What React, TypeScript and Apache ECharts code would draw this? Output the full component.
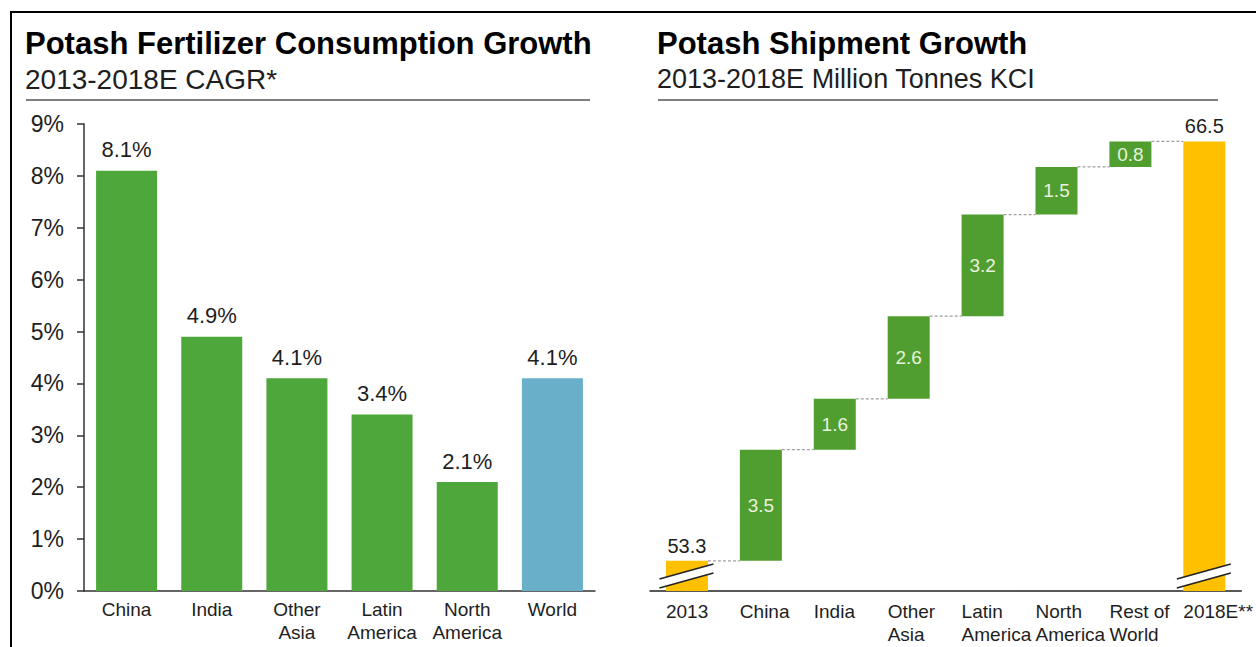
import React, { useEffect, useRef } from 'react';
import * as echarts from 'echarts';

const FONT = "'Liberation Sans', Arial, Helvetica, sans-serif";

// Left chart: consumption CAGR
const cagrCategories = ['China', 'India', 'Other\nAsia', 'Latin\nAmerica', 'North\nAmerica', 'World'];
const cagrValues = [8.1, 4.9, 4.1, 3.4, 2.1, 4.1];
const cagrMin = 0;
const cagrMax = 9;
const cagrInterval = 1;

// Right chart: shipment waterfall
const shipCategories = ['2013', 'China', 'India', 'Other\nAsia', 'Latin\nAmerica', 'North\nAmerica', 'Rest of\nWorld', '2018E**'];
const shipStart = 53.3;
const shipIncrements = [3.5, 1.6, 2.6, 3.2, 1.5, 0.8];
const shipEnd = 66.5;
const shipAxisMin = 52.35;
const shipAxisMax = 67.05;

const GREEN_L = '#4ea73a';
const GREEN_R = '#509e2f';
const BLUE = '#6aafc9';
const YELLOW = '#ffc000';
const TEXT = '#1e1e1e';
const SHIP_BAR_W = 42;

export default function App() {
  const ref = useRef<HTMLDivElement>(null);

  useEffect(() => {
    if (!ref.current) return;
    const chart = echarts.init(ref.current, null, { renderer: 'svg' });

    // waterfall helpers derived from data
    const bases: number[] = [0];
    const tops: number[] = [shipStart];
    let run = shipStart;
    shipIncrements.forEach((d) => {
      bases.push(run);
      run = run + d;
      tops.push(Math.round(run * 10) / 10);
    });
    bases.push(0);
    const shipValues = [shipStart, ...shipIncrements, shipEnd];
    const lastIdx = shipCategories.length - 1;

    const valueData = shipValues.map((v, i) => {
      const total = i === 0 || i === lastIdx;
      return {
        value: v,
        itemStyle: { color: total ? YELLOW : GREEN_R },
        label: total
          ? { show: true, position: 'top', distance: 5, color: TEXT, fontSize: 20, fontFamily: FONT, formatter: () => v.toFixed(1) }
          : { show: true, position: 'inside', color: '#e8f2de', fontSize: 19, fontFamily: FONT, formatter: () => v.toFixed(1) },
      };
    });

    const connectorData = tops.map((t, i) => [i, t]);
    const breakData = [[0, shipAxisMin], [lastIdx, shipAxisMin]];

    const option: any = {
      animation: false,
      backgroundColor: '#ffffff',
      textStyle: { fontFamily: FONT },
      title: [
        { text: 'Potash Fertilizer Consumption Growth', left: 25, top: 28, padding: 0, textStyle: { fontSize: 31, fontWeight: 'bold', color: '#000', fontFamily: FONT } },
        { text: '2013-2018E CAGR*', left: 25, top: 65, padding: 0, textStyle: { fontSize: 28, fontWeight: 'normal', color: TEXT, fontFamily: FONT } },
        { text: 'Potash Shipment Growth', left: 657, top: 28, padding: 0, textStyle: { fontSize: 31, fontWeight: 'bold', color: '#000', fontFamily: FONT } },
        { text: '2013-2018E Million Tonnes KCI', left: 657, top: 65, padding: 0, textStyle: { fontSize: 27, fontWeight: 'normal', color: TEXT, fontFamily: FONT } },
      ],
      graphic: [
        { type: 'line', shape: { x1: 10, y1: 12, x2: 1256, y2: 12 }, style: { stroke: '#000', lineWidth: 2 } },
        { type: 'line', shape: { x1: 11, y1: 11, x2: 11, y2: 647 }, style: { stroke: '#000', lineWidth: 2 } },
        { type: 'line', shape: { x1: 26, y1: 100, x2: 590, y2: 100 }, style: { stroke: '#7f7f7f', lineWidth: 2 } },
        { type: 'line', shape: { x1: 658, y1: 100, x2: 1218, y2: 100 }, style: { stroke: '#7f7f7f', lineWidth: 2 } },
      ],
      grid: [
        { left: 84, top: 124, width: 511, height: 467 },
        { left: 650, top: 124, width: 592, height: 467 },
      ],
      xAxis: [
        {
          type: 'category', gridIndex: 0, data: cagrCategories,
          axisLine: { lineStyle: { color: '#333', width: 1.5 } },
          axisTick: { show: false },
          axisLabel: { interval: 0, color: TEXT, fontSize: 19, lineHeight: 23, margin: 7, fontFamily: FONT },
        },
        {
          type: 'category', gridIndex: 1, data: shipCategories,
          axisLine: { lineStyle: { color: '#222', width: 1.5 } },
          axisTick: { show: false },
          axisLabel: { interval: 0, color: TEXT, fontSize: 19, lineHeight: 23, margin: 9, align: 'left', padding: [0, 0, 0, -SHIP_BAR_W / 2], fontFamily: FONT },
        },
      ],
      yAxis: [
        {
          type: 'value', gridIndex: 0, min: cagrMin, max: cagrMax, interval: cagrInterval,
          axisLine: { show: true, lineStyle: { color: '#333', width: 1.5 } },
          axisTick: { show: true, length: 7, lineStyle: { color: '#333', width: 1.5 } },
          splitLine: { show: false },
          axisLabel: { formatter: '{value}%', color: TEXT, fontSize: 23, margin: 20, fontFamily: FONT },
        },
        {
          type: 'value', gridIndex: 1, min: shipAxisMin, max: shipAxisMax,
          show: false, splitLine: { show: false },
        },
      ],
      series: [
        {
          type: 'bar', xAxisIndex: 0, yAxisIndex: 0, barWidth: 61,
          data: cagrValues.map((v, i) => ({ value: v, itemStyle: { color: i === cagrValues.length - 1 ? BLUE : GREEN_L } })),
          label: { show: true, position: 'top', distance: 10, color: TEXT, fontSize: 22, fontFamily: FONT, formatter: (p: any) => p.value.toFixed(1) + '%' },
        },
        {
          type: 'bar', xAxisIndex: 1, yAxisIndex: 1, stack: 'wf', barWidth: SHIP_BAR_W, clip: true,
          itemStyle: { color: 'rgba(0,0,0,0)' }, silent: true,
          data: bases,
        },
        {
          type: 'bar', xAxisIndex: 1, yAxisIndex: 1, stack: 'wf', barWidth: SHIP_BAR_W, clip: true,
          data: valueData,
        },
        {
          type: 'custom', xAxisIndex: 1, yAxisIndex: 1, z: 5, clip: false,
          encode: { x: 0, y: 1 },
          data: connectorData.slice(0, lastIdx),
          renderItem: (_params: any, api: any) => {
            const p = api.coord([api.value(0), api.value(1)]);
            const band = api.size([1, 0])[0];
            const half = SHIP_BAR_W / 2;
            return {
              type: 'line',
              shape: { x1: p[0] + half, y1: p[1], x2: p[0] + band - half, y2: p[1] },
              style: { stroke: '#a0a0a0', lineWidth: 1.2, lineDash: [3, 2] },
            };
          },
        },
        {
          type: 'custom', xAxisIndex: 1, yAxisIndex: 1, z: 6, clip: false,
          encode: { x: 0, y: 1 },
          data: breakData,
          renderItem: (_params: any, api: any) => {
            const p = api.coord([api.value(0), api.value(1)]);
            const c = p[0];
            const b = p[1];
            const xl = c - 27.5;
            const xr = c + 26.5;
            return {
              type: 'group',
              children: [
                { type: 'polygon', shape: { points: [[xl, b - 12], [xr, b - 27], [xr, b - 18], [xl, b - 3]] }, style: { fill: '#ffffff' } },
                { type: 'line', shape: { x1: xl, y1: b - 12, x2: xr, y2: b - 27 }, style: { stroke: '#222', lineWidth: 1.6 } },
                { type: 'line', shape: { x1: xl, y1: b - 3, x2: xr, y2: b - 18 }, style: { stroke: '#222', lineWidth: 1.6 } },
              ],
            };
          },
        },
      ],
    };

    chart.setOption(option);
    return () => chart.dispose();
  }, []);

  return (
    <div
      ref={ref}
      style={{ position: 'fixed', left: 0, top: 0, width: 1256, height: 647, background: '#fff' }}
    />
  );
}
